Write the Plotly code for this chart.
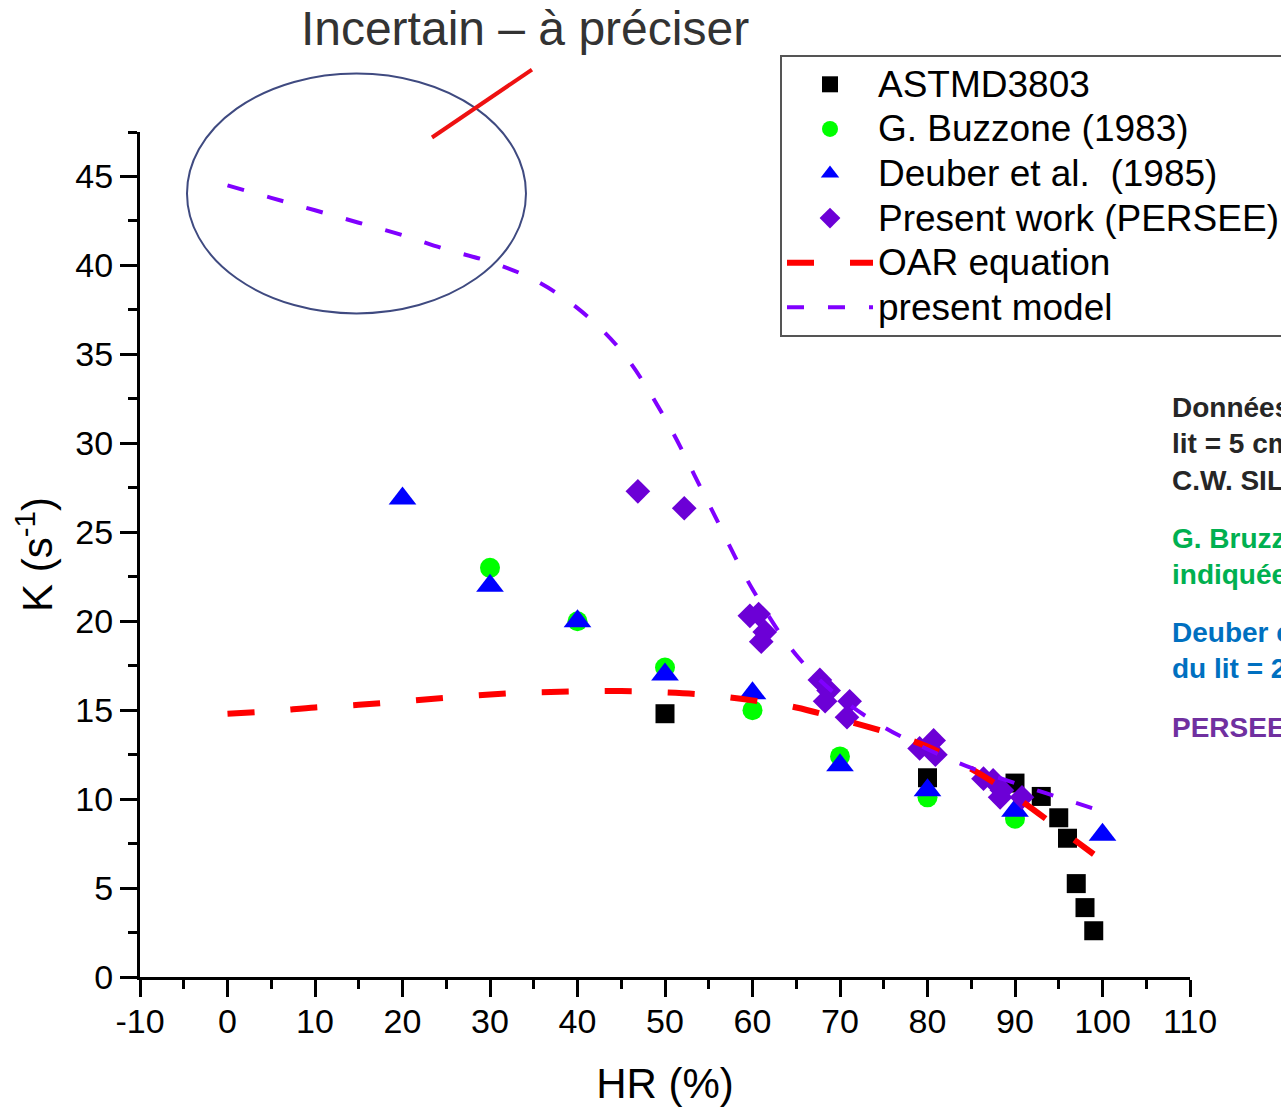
import plotly.graph_objects as go

# ---------------- data ----------------
astm_x = [50, 80, 90, 93, 95, 96, 97, 98, 99]
astm_y = [14.8, 11.2, 10.9, 10.15, 8.95, 7.8, 5.25, 3.9, 2.6]

buzz_x = [30, 40, 50, 60, 70, 80, 90]
buzz_y = [23.0, 20.0, 17.4, 15.0, 12.4, 10.1, 8.9]

deub_x = [20, 30, 40, 50, 60, 70, 80, 90, 100]
deub_y = [26.9, 22.0, 20.0, 17.0, 15.95, 11.9, 10.5, 9.35, 8.0]

persee_x = [46.9, 52.2, 59.7, 60.7, 61.4, 61.0, 67.7, 68.7, 68.3, 71.1, 70.8,
            79.1, 80.7, 80.9, 86.4, 87.5, 88.5, 88.3, 90.8]
persee_y = [27.3, 26.35, 20.3, 20.4, 19.4, 18.85, 16.7, 16.1, 15.5, 15.5, 14.6,
            12.85, 13.3, 12.5, 11.15, 11.05, 10.5, 10.1, 10.1]

oar_x = [0, 5, 10, 15, 20, 25, 30, 35, 40, 45, 50, 55, 60, 65, 70, 75, 80, 85, 90, 95, 99]
oar_y = [14.8, 14.95, 15.15, 15.3, 15.5, 15.7, 15.88, 16.0, 16.05, 16.07, 16.0,
         15.85, 15.55, 15.15, 14.5, 13.8, 12.95, 11.7, 10.15, 8.35, 6.9]

model_x = [0, 5, 10, 15, 20, 25, 30, 35, 40, 45, 50, 55, 60, 65, 70, 75, 80, 85, 90, 95, 100]
model_y = [44.5, 43.8, 43.1, 42.4, 41.7, 40.9, 40.2, 39.2, 37.6, 35.2, 31.4, 26.6,
           21.8, 18.1, 15.7, 14.05, 12.8, 11.75, 10.9, 10.1, 9.3]

x_ticks = [-10, 0, 10, 20, 30, 40, 50, 60, 70, 80, 90, 100, 110]
x_ticklabels = ["-10", "0", "10", "20", "30", "40", "50", "60", "70", "80", "90", "100", "110"]
y_ticks = [0, 5, 10, 15, 20, 25, 30, 35, 40, 45]

names = ["ASTMD3803", "G. Buzzone (1983)", "Deuber et al.  (1985)",
         "Present work (PERSEE)", "OAR equation", "present model"]

side_notes = [
    ("Données ASTM D3803 : hauteur du<br>lit = 5 cm<br>C.W. SILL", "#262626", 0.6304),
    ("G. Bruzzone : hauteur du lit non<br>indiquée", "#00B050", 0.4979),
    ("Deuber et al. : hauteur<br>du lit = 2,5 cm", "#0070C0", 0.3868),
    ("PERSEE", "#7030A0", 0.2957),
]

FONT = "Arial, Liberation Sans, sans-serif"


def leg(name):
    return '<span style="font-size:37px">' + name + "</span>"


fig = go.Figure()
fig.add_trace(go.Scatter(x=astm_x, y=astm_y, mode="markers", name=leg(names[0]),
                         marker=dict(symbol="square", size=19, color="#000000", line=dict(width=0))))
fig.add_trace(go.Scatter(x=buzz_x, y=buzz_y, mode="markers", name=leg(names[1]),
                         marker=dict(symbol="circle", size=20, color="#00FF00", line=dict(width=0))))
fig.add_trace(go.Scatter(x=deub_x, y=deub_y, mode="markers", name=leg(names[2]),
                         marker=dict(symbol="triangle-up", size=24, color="#0000FF", line=dict(width=0))))
fig.add_trace(go.Scatter(x=persee_x, y=persee_y, mode="markers", name=leg(names[3]),
                         marker=dict(symbol="diamond", size=19, color="#6C00D6", line=dict(width=0))))
fig.add_trace(go.Scatter(x=oar_x, y=oar_y, mode="lines", name=leg(names[4]),
                         line=dict(color="#FF0000", width=6, dash="27px,36px", shape="spline")))
fig.add_trace(go.Scatter(x=model_x, y=model_y, mode="lines", name=leg(names[5]),
                         line=dict(color="#8000FF", width=4, dash="17px,24px", shape="spline")))

# Decorations: ellipse and red pointer line
fig.add_shape(type="circle", xref="paper", yref="paper",
              x0=0.04476, x1=0.3676, y0=0.7853, y1=1.0692,
              line=dict(color="#3F4A80", width=2))
fig.add_shape(type="line", xref="paper", yref="paper",
              x0=0.2781, y0=0.9935, x1=0.3733, y1=1.0739,
              line=dict(color="#EE1111", width=4))

for txt, col, yy in side_notes:
    fig.add_annotation(text="<b>" + txt.replace("<br>", "</b><br><b>") + "</b>",
                       xref="paper", yref="paper", x=0.981, y=yy,
                       xanchor="left", yanchor="middle", align="left", showarrow=False,
                       font=dict(family=FONT, size=28, color=col))

axis_common = dict(showgrid=False, zeroline=False, showline=True, linecolor="black",
                   linewidth=3, ticks="outside", ticklen=17, tickwidth=3, tickcolor="black",
                   tickfont=dict(family=FONT, size=34, color="black"))

fig.update_layout(
    width=1281, height=1109,
    margin=dict(l=140, r=91, t=131.5, b=132, autoexpand=False),
    paper_bgcolor="white", plot_bgcolor="white",
    font=dict(family=FONT, color="black"),
    title=dict(text="Incertain – à préciser", x=525 / 1281, y=1 - 28 / 1109,
               xref="container", yref="container", xanchor="center", yanchor="middle",
               font=dict(family=FONT, size=48, color="#333333")),
    xaxis=dict(range=[-10, 110], tickvals=x_ticks, ticktext=x_ticklabels,
               ticklabelstandoff=-5,
               minor=dict(dtick=5, ticklen=9, tickwidth=3, ticks="outside", tickcolor="black"),
               title=dict(text="HR (%)", font=dict(family=FONT, size=42, color="black"), standoff=30),
               **axis_common),
    yaxis=dict(range=[0, 47.5], tickvals=y_ticks,
               minor=dict(dtick=2.5, ticklen=9, tickwidth=3, ticks="outside", tickcolor="black"),
               title=dict(text="K (s<sup>-1</sup>)", font=dict(family=FONT, size=42, color="black"), standoff=10),
               **axis_common),
    legend=dict(xref="container", yref="container", x=780 / 1281, y=1 - 55 / 1109,
                xanchor="left", yanchor="top", bgcolor="white",
                bordercolor="#555555", borderwidth=2, itemwidth=86,
                font=dict(family=FONT, size=32, color="black"),
                tracegroupgap=0),
    showlegend=True,
)

fig.write_html("out.html")
